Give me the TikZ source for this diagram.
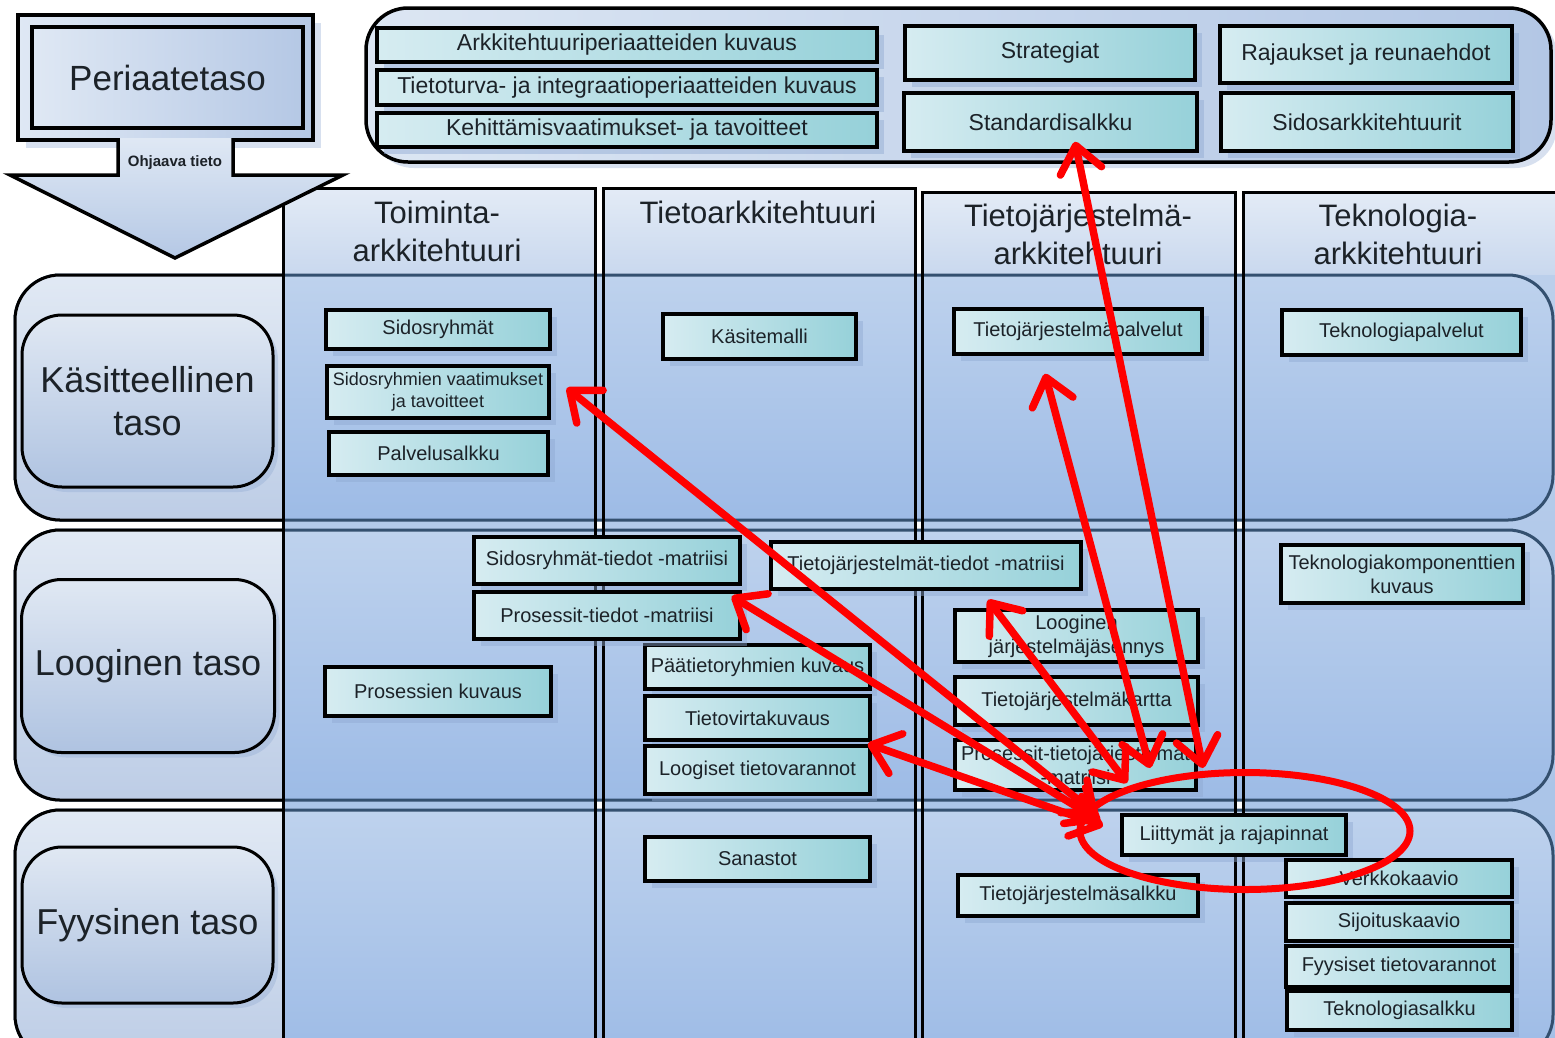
\documentclass[tikz,border=0pt]{standalone}
\usepackage{fontspec}
\setmainfont{Liberation Sans}
\usetikzlibrary{shapes.geometric,arrows.meta,shadows,calc}
\definecolor{boxL}{HTML}{D6ECF1}
\definecolor{boxR}{HTML}{96D1D9}
\definecolor{shd}{HTML}{8FA9D2}
\definecolor{rowline}{HTML}{34506F}
\definecolor{colHeadTop}{HTML}{E3EBF6}
\definecolor{colHeadBot}{HTML}{C9D8EE}
\definecolor{colBodyTop}{HTML}{BBCFEB}
\definecolor{colBodyBot}{HTML}{A3C0E7}
\definecolor{rowTop}{HTML}{BED2ED}
\definecolor{rowBot}{HTML}{9DBBE6}
\definecolor{rowLeftTop}{HTML}{E1E9F4}
\definecolor{rowLeftBot}{HTML}{BDCDE6}
\definecolor{labTop}{HTML}{E0E8F3}
\definecolor{labBot}{HTML}{AFC3E1}
\definecolor{panelL}{HTML}{DCE6F3}
\definecolor{panelR}{HTML}{B3C7E5}
\definecolor{periL}{HTML}{DFE8F4}
\definecolor{periR}{HTML}{B5C8E5}
\definecolor{txt}{HTML}{1C2228}
\begin{document}
\begin{tikzpicture}[x=1pt,y=-1pt, text=txt,
  bx/.style={draw=black, line width=3.5pt, left color=boxL, right color=boxR, inner sep=0pt, align=center, font=\fontsize{20}{24}\selectfont, drop shadow={shadow xshift=7pt, shadow yshift=-7pt, fill=shd, opacity=0.45}},
  tbx/.style={bx, font=\fontsize{23}{27}\selectfont},
  lab/.style={draw=black, line width=3pt, rounded corners=40pt, top color=labTop, bottom color=labBot, align=center, inner sep=0pt, font=\fontsize{36}{43}\selectfont, drop shadow={shadow xshift=5pt, shadow yshift=-5pt, fill=shd, opacity=0.35}},
  hd/.style={align=center, inner sep=0pt, font=\fontsize{31}{38}\selectfont},
  rowbox/.style={draw=rowline, line width=3pt, rounded corners=45pt, top color=rowTop, bottom color=rowBot},
  rowleft/.style={draw=black, line width=3pt, rounded corners=45pt, top color=rowLeftTop, bottom color=rowLeftBot},
  colline/.style={draw=black, line width=3pt},
  redarr/.style={draw=red, line width=7.5pt, line cap=round, arrows={Straight Barb[length=26pt,width=42pt,round]-Straight Barb[length=26pt,width=42pt,round]}},
]
\useasboundingbox (0,0) rectangle (1555,1037);
\clip (0,0) rectangle (1555,1037);
\fill[white] (0,0) rectangle (1555,1037);

% top panel
\path[draw=black, line width=3.5pt, rounded corners=42pt, left color=panelL, right color=panelR, drop shadow={shadow xshift=6pt, shadow yshift=-6pt, fill=shd, opacity=0.35}] (366,8) rectangle (1551,162);

% Periaatetaso box
\path[draw=black, line width=3.5pt, left color=periL, right color=periR, drop shadow={shadow xshift=8pt, shadow yshift=-8pt, fill=shd, opacity=0.35}] (18,15) rectangle (313,140);
\node[draw=black, line width=3.5pt, left color=periL, right color=periR, minimum width=271pt, minimum height=101pt, inner sep=0pt, font=\fontsize{35}{42}\selectfont] (peri) at (167.5,77.5) {Periaatetaso};

% columns
\foreach \xa/\xb/\yt in {283/595/188, 603/915/188, 922/1235/192, 1243/1570/192} {
  \path[top color=colHeadTop, bottom color=colHeadBot] (\xa,\yt) rectangle (\xb,275);
  \path[top color=colBodyTop, bottom color=colBodyBot] (\xa,275) rectangle (\xb,1060);
}

% rows
\path[rowbox] (15,275) rectangle (1553,520);
\path[rowbox] (15,530) rectangle (1553,800);
\path[rowbox] (15,810) rectangle (1553,1060);
\begin{scope}
  \clip (0,0) rectangle (283,1037);
  \path[rowleft] (15,275) rectangle (1553,520);
  \path[rowleft] (15,530) rectangle (1553,800);
  \path[rowleft] (15,810) rectangle (1553,1060);
\end{scope}

% column borders
\foreach \xa/\xb/\yt in {283/595/188, 603/915/188, 922/1235/192, 1243/1580/192} {
  \draw[colline] (\xa,1060) -- (\xa,\yt) -- (\xb,\yt) -- (\xb,1060);
}

% row labels
\node[lab, minimum width=251pt, minimum height=172pt] (klab) at (147.5,401) {Käsitteellinen\\taso};
\node[lab, minimum width=253pt, minimum height=173pt] (llab) at (148,666) {Looginen taso};
\node[lab, minimum width=251pt, minimum height=156pt] (flab) at (147.5,925) {Fyysinen taso};

% guiding arrow
\draw[line width=3.5pt, line join=miter, top color=periL, bottom color=periR] (118,138) -- (118,175) -- (10,175) -- (175,258) -- (343,175) -- (233,175) -- (233,138);
\node[font=\bfseries\fontsize{15}{18}\selectfont, inner sep=0pt] (ohj) at (175,163) {Ohjaava tieto};

% column headers
\node[hd] (h1) at (437,231) {Toiminta-\\arkkitehtuuri};
\node[hd] (h2) at (758,212) {Tietoarkkitehtuuri};
\node[hd] (h3) at (1078,234) {Tietojärjestelmä-\\arkkitehtuuri};
\node[hd] (h4) at (1398,234) {Teknologia-\\arkkitehtuuri};

% top panel boxes
\node[tbx, minimum width=500pt, minimum height=34pt] (ark) at (627,45) {Arkkitehtuuriperiaatteiden kuvaus};
\node[tbx, minimum width=500pt, minimum height=35pt] (tti) at (627,87.5) {Tietoturva- ja integraatioperiaatteiden kuvaus};
\node[tbx, minimum width=500pt, minimum height=34pt] (kvt) at (627,130) {Kehittämisvaatimukset- ja tavoitteet};
\node[tbx, minimum width=290pt, minimum height=54pt] (strat) at (1050,53) {Strategiat};
\node[tbx, minimum width=293pt, minimum height=58pt] (std) at (1050.5,122) {Standardisalkku};
\node[tbx, minimum width=292pt, minimum height=57pt] (raj) at (1366,54.5) {Rajaukset ja reunaehdot};
\node[tbx, minimum width=292pt, minimum height=58pt] (sid) at (1367,122) {Sidosarkkitehtuurit};

% conceptual level
\node[bx, minimum width=224pt, minimum height=39pt] (sr) at (438,329.5) {Sidosryhmät};
\node[bx, minimum width=222pt, minimum height=52pt, font=\fontsize{18}{22}\selectfont] (svt) at (438,392) {Sidosryhmien vaatimukset\\ja tavoitteet};
\node[bx, minimum width=219pt, minimum height=43pt] (ps) at (438.5,453.5) {Palvelusalkku};
\node[bx, minimum width=193pt, minimum height=45pt] (km) at (759.5,336.5) {Käsitemalli};
\node[bx, minimum width=248pt, minimum height=45pt] (tjp) at (1078,331.5) {Tietojärjestelmäpalvelut};
\node[bx, minimum width=239pt, minimum height=45pt] (tp) at (1401.5,332.5) {Teknologiapalvelut};

% logical level
\node[bx, minimum width=226pt, minimum height=49pt] (pk) at (438,691.5) {Prosessien kuvaus};
\node[bx, minimum width=225pt, minimum height=44pt] (ptrk) at (757.5,667) {Päätietoryhmien kuvaus};
\node[bx, minimum width=225pt, minimum height=44pt] (tvk) at (757.5,718) {Tietovirtakuvaus};
\node[bx, minimum width=225pt, minimum height=48pt] (ltv) at (757.5,770) {Loogiset tietovarannot};
\node[bx, minimum width=266pt, minimum height=47pt] (stm) at (607,560.5) {Sidosryhmät-tiedot -matriisi};
\node[bx, minimum width=266pt, minimum height=47pt] (ptm) at (607,615.5) {Prosessit-tiedot -matriisi};
\node[bx, minimum width=310pt, minimum height=47pt] (tjtm) at (926,565.5) {Tietojärjestelmät-tiedot -matriisi};
\node[bx, minimum width=243pt, minimum height=52pt] (ljj) at (1076.5,636) {Looginen\\järjestelmäjäsennys};
\node[bx, minimum width=243pt, minimum height=48pt] (tjk) at (1076.5,701) {Tietojärjestelmäkartta};
\node[bx, minimum width=241pt, minimum height=50pt] (ptjm) at (1075.5,765) {Prosessit-tietojärjestelmät\\-matriisi};
\node[bx, minimum width=242pt, minimum height=58pt] (tkk) at (1402,574) {Teknologiakomponenttien\\kuvaus};

% physical level
\node[bx, minimum width=225pt, minimum height=44pt] (san) at (757.5,859) {Sanastot};
\node[bx, minimum width=240pt, minimum height=41pt] (tjs) at (1078,895.5) {Tietojärjestelmäsalkku};
\node[bx, minimum width=224pt, minimum height=40pt] (lr) at (1234,835) {Liittymät ja rajapinnat};
\node[bx, minimum width=226pt, minimum height=37pt] (vk) at (1399,878.5) {Verkkokaavio};
\node[bx, minimum width=226pt, minimum height=38pt] (sk) at (1399,922) {Sijoituskaavio};
\node[bx, minimum width=226pt, minimum height=41pt] (ftv) at (1399,966.5) {Fyysiset tietovarannot};
\node[bx, minimum width=225pt, minimum height=39pt] (tsk) at (1399.5,1010.5) {Teknologiasalkku};

% red ring
\node[draw=red, line width=7pt, ellipse, minimum width=330pt, minimum height=117pt, inner sep=0pt] (ring) at (1245,831) {};

% arrow ends
\coordinate (a1s) at ($(svt.east)+(16,-4)$);
\coordinate (a2s) at ($(ptm.north east)+(-10,6)$);
\coordinate (a3s) at ($(tvk.south east)+(-4,2)$);
\coordinate (a4s) at ($(tjtm.south)+(62,9)$);
\coordinate (a5s) at ($(tjp.south)+(-33,18)$);
\coordinate (a6s) at ($(std.south)+(24.5,-11)$);
\coordinate (a1e) at ($(ring.center)+(-148,-16)$);
\coordinate (a2e) at ($(ring.center)+(-145,-10)$);
\coordinate (a3e) at ($(ring.center)+(-142,-5)$);
\coordinate (a4e) at ($(ring.center)+(-118,-48)$);
\coordinate (a5e) at ($(ring.center)+(-95,-63)$);
\coordinate (a6e) at ($(ring.center)+(-42,-63)$);

\draw[redarr] (a1s) -- (a1e);
\draw[redarr] (a2s) -- (a2e);
\draw[redarr] (a3s) -- (a3e);
\draw[redarr] (a4s) -- (a4e);
\draw[redarr] (a5s) -- (a5e);
\draw[redarr] (a6s) -- (a6e);
\end{tikzpicture}
\end{document}
